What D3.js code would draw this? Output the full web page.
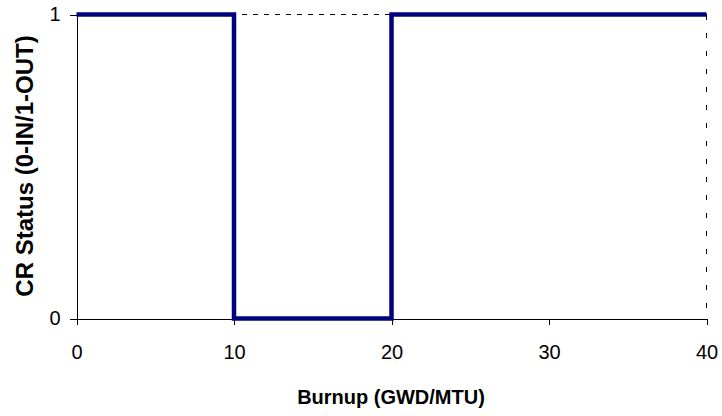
<!DOCTYPE html>
<html>
<head>
<meta charset="utf-8">
<script src="https://cdn.jsdelivr.net/npm/d3@7"></script>
<style>
  body { margin: 0; background: #fff; }
  text { font-family: "Liberation Sans", Arial, sans-serif; }
</style>
</head>
<body>
<div id="chart"></div>
<script>
var burnup = [0, 10, 10, 20, 20, 40];
var crStatus = [1, 1, 0, 0, 1, 1];
var xTicks = [0, 10, 20, 30, 40];
var yTicks = [0, 1];

var width = 722, height = 416;
var margin = { top: 14, right: 16, bottom: 98, left: 76 };
var w = width - margin.left - margin.right,
    h = height - margin.top - margin.bottom;

var svg = d3.select("#chart").append("svg")
    .attr("width", width)
    .attr("height", height);

var g = svg.append("g")
    .attr("transform", "translate(" + (margin.left + 0.5) + "," + (margin.top + 0.5) + ")");

var x = d3.scaleLinear().domain([0, 40]).range([0, w]);
var y = d3.scaleLinear().domain([0, 1]).range([h, 0]);

// dashed frame top and right
g.append("line")
    .attr("x1", 0).attr("x2", w).attr("y1", 0).attr("y2", 0)
    .attr("stroke", "#000").attr("stroke-dasharray", "5,6")
    .attr("shape-rendering", "crispEdges");
g.append("line")
    .attr("x1", w).attr("x2", w).attr("y1", 0).attr("y2", h)
    .attr("stroke", "#000").attr("stroke-dasharray", "5,13")
    .attr("shape-rendering", "crispEdges");

var xAxis = d3.axisBottom(x).tickValues(xTicks).tickSize(6).tickSizeOuter(0).tickPadding(20)
    .tickFormat(d3.format("d"));
var yAxis = d3.axisLeft(y).tickValues(yTicks).tickSize(7).tickSizeOuter(0).tickPadding(9)
    .tickFormat(d3.format("d"));

var gx = g.append("g")
    .attr("transform", "translate(0," + h + ")")
    .call(xAxis);
var gy = g.append("g").call(yAxis);

[gx, gy].forEach(function(a) {
  a.selectAll("text").style("font-size", "20px").attr("fill", "#000");
  a.selectAll("line,path").attr("stroke", "#000").attr("shape-rendering", "crispEdges");
});

var line = d3.line()
    .x(function(d, i) { return x(burnup[i]); })
    .y(function(d) { return y(d); });

g.append("path")
    .datum(crStatus)
    .attr("d", line)
    .attr("fill", "none")
    .attr("stroke", "#000080")
    .attr("stroke-width", 4.5)
    .attr("stroke-linejoin", "miter");

svg.append("text")
    .attr("x", margin.left + w / 2)
    .attr("y", 404)
    .attr("text-anchor", "middle")
    .style("font-size", "20px")
    .style("font-weight", "bold")
    .text("Burnup (GWD/MTU)");

svg.append("text")
    .attr("transform", "translate(33," + (margin.top + h / 2) + ") rotate(-90)")
    .attr("text-anchor", "middle")
    .style("font-size", "24px")
    .style("font-weight", "bold")
    .text("CR Status (0-IN/1-OUT)");
</script>
</body>
</html>
